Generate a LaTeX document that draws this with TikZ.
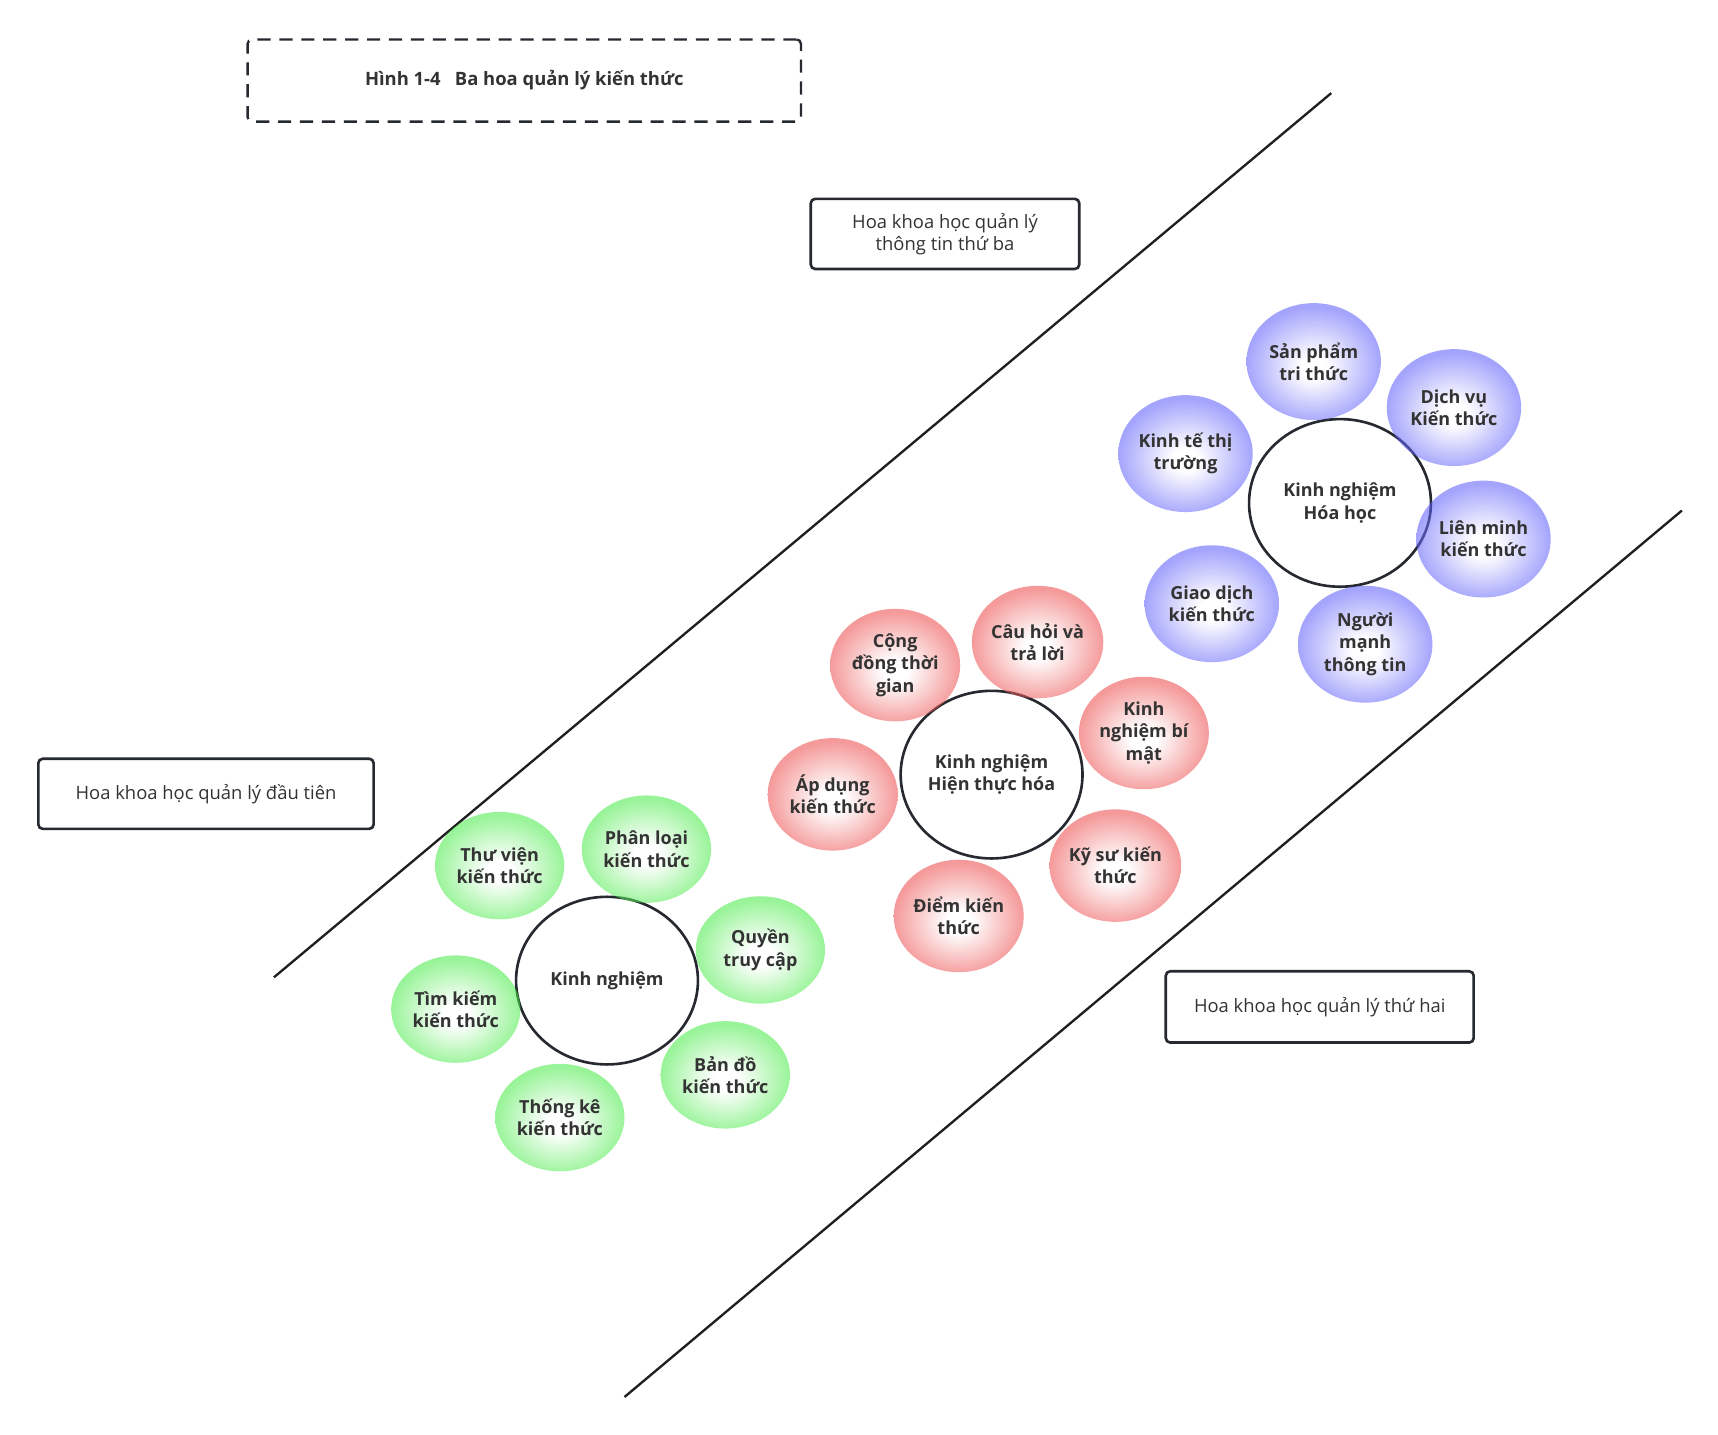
\documentclass[tikz,border=0pt]{standalone}
\usepackage{fontspec}
\setmainfont{Open Sans}
\usetikzlibrary{shapes.geometric}
\definecolor{ink}{RGB}{51,51,51}
\definecolor{edgec}{RGB}{38,42,48}
\definecolor{gcol}{RGB}{70,235,70}
\definecolor{rcol}{RGB}{238,72,72}
\definecolor{bcol}{RGB}{90,90,252}
\pgfdeclareradialshading{gshade}{\pgfpoint{0bp}{-3bp}}{color(0bp)=(white);color(5bp)=(white);color(25bp)=(gcol);color(50bp)=(gcol)}
\pgfdeclareradialshading{rshade}{\pgfpoint{0bp}{-3bp}}{color(0bp)=(white);color(5bp)=(white);color(25bp)=(rcol);color(50bp)=(rcol)}
\pgfdeclareradialshading{bshade}{\pgfpoint{0bp}{-3bp}}{color(0bp)=(white);color(5bp)=(white);color(25bp)=(bcol);color(50bp)=(bcol)}
\tikzset{
  petal/.style={shape=ellipse, inner sep=0pt, minimum width=89pt, minimum height=76pt,
    fill opacity=0.55, text opacity=1, text=ink, align=center,
    font=\fontsize{12.3}{15.2}\selectfont\bfseries},
  gpetal/.style={petal, shading=gshade, minimum width=88.5pt, minimum height=73.5pt},
  rpetal/.style={petal, shading=rshade, minimum width=89pt, minimum height=77pt},
  bpetal/.style={petal, shading=bshade, minimum width=92pt, minimum height=80pt},
  core/.style={shape=ellipse, draw=edgec, line width=1.8pt, fill=white, inner sep=0pt,
    minimum width=124.5pt, minimum height=114.75pt, text=ink, align=center,
    font=\fontsize{12.3}{15.2}\selectfont\bfseries},
  labelbox/.style={draw=edgec, line width=1.8pt, rounded corners=3pt, fill=white,
    text=ink, align=center, inner sep=0pt, font=\fontsize{12.6}{15}\selectfont},
  divider/.style={draw=black!88, line width=1.6pt},
}
\begin{document}
\begin{tikzpicture}[x=0.75pt,y=-0.75pt]
\useasboundingbox (0,0) rectangle (1568,1309);
\fill[white] (0,0) rectangle (1568,1309);

% title
\node[draw=edgec, line width=1.6pt, dash pattern=on 9pt off 6pt, rounded corners=3pt,
  minimum width=378.75pt, minimum height=56.25pt, inner sep=0pt, text=ink,
  font=\fontsize{12.6}{15}\selectfont\bfseries] (title) at (478.5,73.5) {Hình 1-4\ \ \ Ba hoa quản lý kiến thức};

% dividing lines
\coordinate (l1a) at (250,892);
\coordinate (l1b) at (1215,85);
\coordinate (l2a) at (570,1275);
\coordinate (l2b) at (1535,466);
\draw[divider] (l1a) -- (l1b);
\draw[divider] (l2a) -- (l2b);

% label boxes
\node[labelbox, minimum width=183.75pt, minimum height=48pt] (third) at (862.5,213.5) {Hoa khoa học quản lý\\thông tin thứ ba};
\node[labelbox, minimum width=229.5pt, minimum height=48pt] (first) at (188,724.5) {Hoa khoa học quản lý đầu tiên};
\node[labelbox, minimum width=210.75pt, minimum height=48.75pt] (second) at (1204.5,919) {Hoa khoa học quản lý thứ hai};

% cores
\node[core] (c1) at (554,895) {Kinh nghiệm};
\node[core] (c2) at (905,707) {Kinh nghiệm\\Hiện thực hóa};
\node[core] (c3) at (1223,459) {Kinh nghiệm\\Hóa học};

% green petals
\node[gpetal] (g1) at (456,790) {Thư viện\\kiến thức};
\node[gpetal] (g2) at (590,775) {Phân loại\\kiến thức};
\node[gpetal] (g3) at (694,867) {Quyền\\truy cập};
\node[gpetal] (g4) at (416,921) {Tìm kiếm\\kiến thức};
\node[gpetal] (g5) at (511,1020) {Thống kê\\kiến thức};
\node[gpetal] (g6) at (662,981) {Bản đồ\\kiến thức};

% red petals
\node[rpetal] (r1) at (817,607) {Cộng\\đồng thời\\gian};
\node[rpetal] (r2) at (947,586) {Câu hỏi và\\trả lời};
\node[rpetal] (r3) at (1044,669) {Kinh\\nghiệm bí\\mật};
\node[rpetal] (r4) at (760,725) {Áp dụng\\kiến thức};
\node[rpetal] (r5) at (1018,790) {Kỹ sư kiến\\thức};
\node[rpetal] (r6) at (875,836) {Điểm kiến\\thức};

% blue petals
\node[bpetal] (b1) at (1199,330) {Sản phẩm\\tri thức};
\node[bpetal] (b2) at (1327,372) {Dịch vụ\\Kiến thức};
\node[bpetal] (b3) at (1082,414) {Kinh tế thị\\trường};
\node[bpetal] (b4) at (1354,492) {Liên minh\\kiến thức};
\node[bpetal] (b5) at (1106,551) {Giao dịch\\kiến thức};
\node[bpetal] (b6) at (1246,588) {Người\\mạnh\\thông tin};
\end{tikzpicture}
\end{document}
